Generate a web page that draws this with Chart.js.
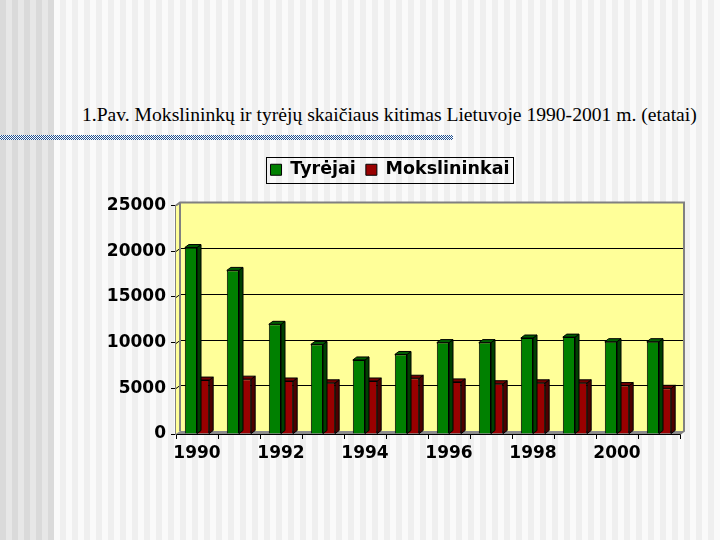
<!DOCTYPE html>
<html>
<head>
<meta charset="utf-8">
<script src="https://cdn.jsdelivr.net/npm/chart.js@4.4.0/dist/chart.umd.min.js"></script>
<style>
  html, body { margin: 0; padding: 0; }
  body {
    width: 720px; height: 540px; position: relative; overflow: hidden;
    background:
      repeating-linear-gradient(90deg, #dadada 0 6px, #e7e7e7 6px 12px) 0 0 / 54px 100% no-repeat,
      repeating-linear-gradient(90deg, #efefef 0 6px, #fafafa 6px 12px);
  }
  #title {
    position: absolute; left: 82px; top: 104px; white-space: nowrap;
    font: 19.6px/22px "Liberation Serif", serif; color: #000;
  }
  #rule {
    position: absolute; left: 0; top: 135px; width: 453px; height: 5px;
    background: repeating-conic-gradient(#1f4f8f 0 25%, #ffffff 0 50%) 0 0 / 2px 2px;
  }
  #chart { position: absolute; left: 0; top: 0; }
</style>
</head>
<body>
<div id="title">1.Pav. Mokslininkų ir tyrėjų skaičiaus kitimas Lietuvoje 1990-2001 m. (etatai)</div>
<div id="rule"></div>
<canvas id="chart" width="720" height="540"></canvas>
<script>
  const years = ['1990', '1991', '1992', '1993', '1994', '1995', '1996', '1997', '1998', '1999', '2000', '2001'];
  const tyrejai = [20400, 17900, 12000, 9800, 8100, 8700, 10000, 10000, 10500, 10600, 10100, 10100];
  const mokslininkai = [5900, 6000, 5800, 5600, 5800, 6100, 5700, 5500, 5600, 5600, 5300, 5000];
  const yMax = 25000;
  const yStep = 5000;

  // depth of the fake 3d look
  const DX = 4, DY = -3;
  const shades = {
    '#008000': { side: '#004000', top: '#006000' },
    '#990000': { side: '#4c0000', top: '#730000' }
  };

  const depthPlugin = {
    id: 'depth',
    beforeDatasetsDraw(chart) {
      const { ctx, chartArea: a, scales: { y } } = chart;
      ctx.save();
      ctx.fillStyle = '#ffff99';
      ctx.beginPath();
      ctx.moveTo(a.left, a.bottom);
      ctx.lineTo(a.left, a.top);
      ctx.lineTo(a.left + DX, a.top + DY);
      ctx.lineTo(a.right + DX, a.top + DY);
      ctx.lineTo(a.right + DX, a.bottom + DY);
      ctx.lineTo(a.left + DX, a.bottom + DY);
      ctx.closePath();
      ctx.fill();

      // floor
      ctx.fillStyle = '#8c8c8c';
      ctx.beginPath();
      ctx.moveTo(a.left, a.bottom);
      ctx.lineTo(a.left + DX, a.bottom + DY);
      ctx.lineTo(a.right + DX, a.bottom + DY);
      ctx.lineTo(a.right, a.bottom);
      ctx.closePath();
      ctx.fill();

      // gridlines on left and back wall
      ctx.strokeStyle = '#000';
      ctx.lineWidth = 1;
      y.ticks.forEach(t => {
        if (t.value === 0 || t.value === yMax) return;
        const py = Math.round(y.getPixelForValue(t.value)) + 0.5;
        ctx.beginPath();
        ctx.moveTo(a.left, py);
        ctx.lineTo(a.left + DX, py + DY);
        ctx.lineTo(a.right + DX, py + DY);
        ctx.stroke();
      });

      // wall edges
      ctx.strokeStyle = '#808080';
      ctx.lineWidth = 2;
      ctx.beginPath();
      ctx.moveTo(a.left + DX, a.bottom + DY);
      ctx.lineTo(a.left + DX, a.top + DY);
      ctx.moveTo(a.left, a.top);
      ctx.lineTo(a.left + DX, a.top + DY);
      ctx.lineTo(a.right + DX, a.top + DY);
      ctx.lineTo(a.right + DX, a.bottom + DY);
      ctx.lineTo(a.right, a.bottom);
      ctx.stroke();
      ctx.restore();
    },
    afterDatasetDraw(chart, args) {
      const { ctx } = chart;
      const ds = chart.data.datasets[args.index];
      const sh = shades[ds.backgroundColor];
      ctx.save();
      ctx.strokeStyle = '#000';
      ctx.lineWidth = 1;
      args.meta.data.forEach(bar => {
        const { x, y, width, base } = bar.getProps(['x', 'y', 'width', 'base'], true);
        const l = x - width / 2, r = x + width / 2;
        ctx.fillStyle = sh.side;
        ctx.beginPath();
        ctx.moveTo(r, y);
        ctx.lineTo(r + DX, y + DY);
        ctx.lineTo(r + DX, base + DY);
        ctx.lineTo(r, base);
        ctx.closePath();
        ctx.fill();
        ctx.stroke();
        ctx.fillStyle = sh.top;
        ctx.beginPath();
        ctx.moveTo(l, y);
        ctx.lineTo(l + DX, y + DY);
        ctx.lineTo(r + DX, y + DY);
        ctx.lineTo(r, y);
        ctx.closePath();
        ctx.fill();
        ctx.stroke();
      });
      ctx.restore();
    }
  };

  const legendBoxPlugin = {
    id: 'legendBox',
    afterDraw(chart) {
      const boxes = chart.legend.legendHitBoxes;
      if (!boxes || !boxes.length) return;
      const { ctx } = chart;
      const left = Math.min(...boxes.map(b => b.left)) - 5;
      const right = Math.max(...boxes.map(b => b.left + b.width)) + 3;
      const top = Math.min(...boxes.map(b => b.top)) - 4;
      const bottom = Math.max(...boxes.map(b => b.top + b.height)) + 4;
      ctx.save();
      ctx.strokeStyle = '#000';
      ctx.lineWidth = 1;
      ctx.strokeRect(Math.round(left) + 0.5, Math.round(top) + 0.5, Math.round(right - left), Math.round(bottom - top));
      ctx.restore();
    }
  };

  const tickFont = { family: 'DejaVu Sans', size: 17, weight: 'bold' };

  new Chart(document.getElementById('chart'), {
    type: 'bar',
    data: {
      labels: years,
      datasets: [
        {
          label: 'Tyrėjai',
          data: tyrejai,
          backgroundColor: '#008000',
          borderColor: '#000',
          borderWidth: 1
        },
        {
          label: 'Mokslininkai',
          data: mokslininkai,
          backgroundColor: '#990000',
          borderColor: '#000',
          borderWidth: 1
        }
      ]
    },
    options: {
      responsive: false,
      animation: false,
      devicePixelRatio: 1,
      categoryPercentage: 0.58,
      barPercentage: 1.0,
      layout: { padding: { top: 151, left: 100, right: 40, bottom: 66 } },
      plugins: {
        legend: {
          position: 'top',
          labels: {
            color: '#000',
            font: { family: 'DejaVu Sans', size: 17.5, weight: 'bold' },
            boxWidth: 11,
            boxHeight: 11,
            padding: 10
          }
        },
        subtitle: {
          display: true,
          text: '',
          position: 'top',
          weight: 500,
          font: { size: 10 },
          padding: { top: 0, bottom: 5 }
        },
        tooltip: { enabled: false }
      },
      scales: {
        x: {
          offset: true,
          grid: { offset: true, drawOnChartArea: false, color: '#000', tickLength: 5 },
          border: { color: '#000', width: 1 },
          ticks: {
            color: '#000',
            font: tickFont,
            padding: 4,
            autoSkip: false,
            maxRotation: 0,
            callback: function (value, index) {
              return index % 2 === 0 ? this.getLabelForValue(value) : '';
            }
          },
          afterFit: (scale) => { scale.height = 40; }
        },
        y: {
          min: 0,
          max: yMax,
          grid: { drawOnChartArea: false, color: '#000', tickLength: 5 },
          border: { color: '#808080', width: 1.5 },
          ticks: {
            color: '#000',
            font: tickFont,
            stepSize: yStep,
            padding: 5,
            callback: (value) => String(value)
          },
          afterFit: (scale) => { scale.width = 76; }
        }
      }
    },
    plugins: [depthPlugin, legendBoxPlugin]
  });
</script>
</body>
</html>
